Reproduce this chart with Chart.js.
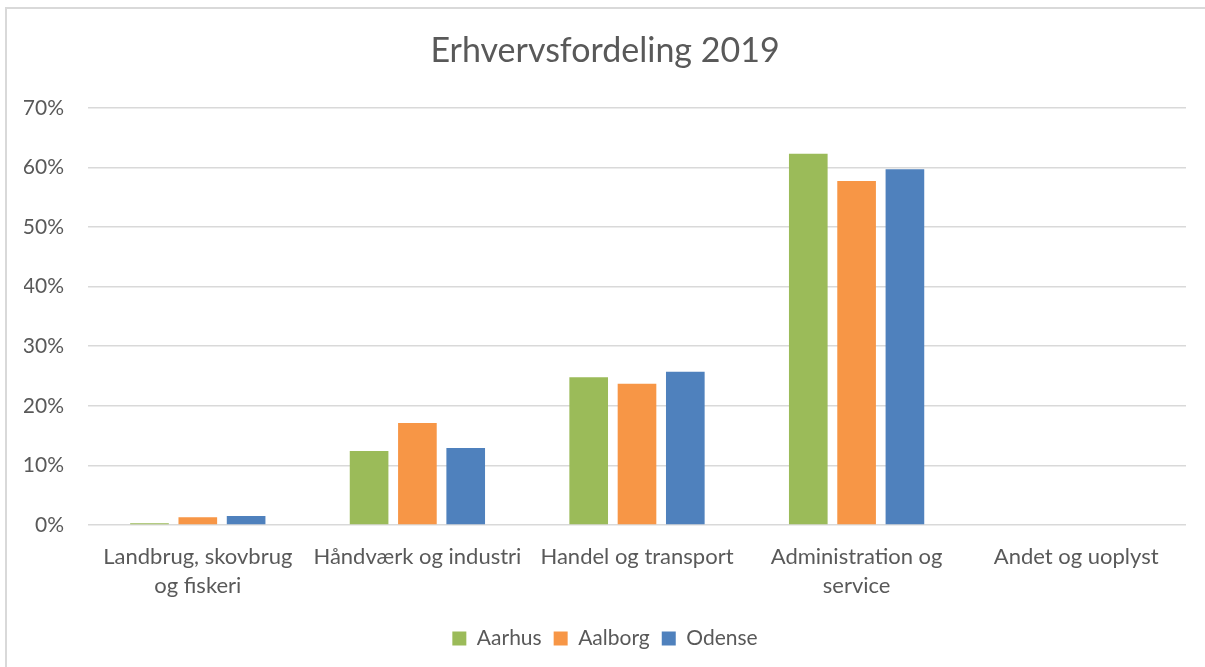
<!DOCTYPE html>
<html lang="da">
<head>
<meta charset="UTF-8">
<title>Erhvervsfordeling 2019</title>
<script src="https://cdn.jsdelivr.net/npm/chart.js"></script>
<style>
  body { margin: 0; background: #fff; }
  #frame { position: absolute; left: 5px; top: 7px; width: 1400px; height: 800px; border: 2px solid #d9d9d9; }
  #chart { position: absolute; left: 0; top: 0; }
</style>
</head>
<body>
<div id="frame"></div>
<canvas id="chart" width="1205" height="667"></canvas>
<script>
// categories and values (percent)
const categories = [
  ["Landbrug, skovbrug", "og fiskeri"],
  "Håndværk og industri",
  "Handel og transport",
  ["Administration og", "service"],
  "Andet og uoplyst"
];
const aarhus = [0.3, 12.4, 24.8, 62.3, 0];
const aalborg = [1.3, 17.1, 23.7, 57.7, 0];
const odense = [1.5, 12.9, 25.7, 59.7, 0];
const yTicks = [0, 10, 20, 30, 40, 50, 60, 70];

const textColor = "#595959";
const fontFamily = "Lato, 'Open Sans', sans-serif";

new Chart(document.getElementById("chart"), {
  type: "bar",
  data: {
    labels: categories,
    datasets: [
      { label: "Aarhus", data: aarhus, backgroundColor: "#9BBB59" },
      { label: "Aalborg", data: aalborg, backgroundColor: "#F79646" },
      { label: "Odense", data: odense, backgroundColor: "#4F81BD" }
    ]
  },
  options: {
    responsive: false,
    animation: false,
    layout: { padding: { left: 24, right: 19, top: 0, bottom: 8 } },
    datasets: { bar: { categoryPercentage: 0.66, barPercentage: 0.8 } },
    plugins: {
      title: {
        display: true,
        text: "Erhvervsfordeling 2019",
        color: textColor,
        font: { family: fontFamily, size: 34, weight: "normal" },
        padding: { top: 31, bottom: 36 }
      },
      legend: {
        position: "bottom",
        labels: {
          color: textColor,
          font: { family: fontFamily, size: 21 },
          boxWidth: 14,
          boxHeight: 14,
          padding: 12
        }
      },
      tooltip: { enabled: false }
    },
    scales: {
      x: {
        grid: { display: false, drawTicks: false },
        border: { display: false },
        ticks: {
          color: textColor,
          font: { family: fontFamily, size: 22, lineHeight: 1.32 },
          padding: 17,
          maxRotation: 0,
          autoSkip: false
        },
        afterFit: s => { s.height = 91; }
      },
      y: {
        min: yTicks[0],
        max: yTicks[yTicks.length - 1],
        afterBuildTicks: s => { s.ticks = yTicks.map(v => ({ value: v })); },
        grid: { color: "#d9d9d9", lineWidth: 1.5, drawTicks: false },
        border: { display: false },
        ticks: {
          color: textColor,
          font: { family: fontFamily, size: 21 },
          padding: 24,
          callback: v => v + "%"
        },
        afterFit: s => { s.width = 64; }
      }
    }
  }
});
</script>
</body>
</html>
